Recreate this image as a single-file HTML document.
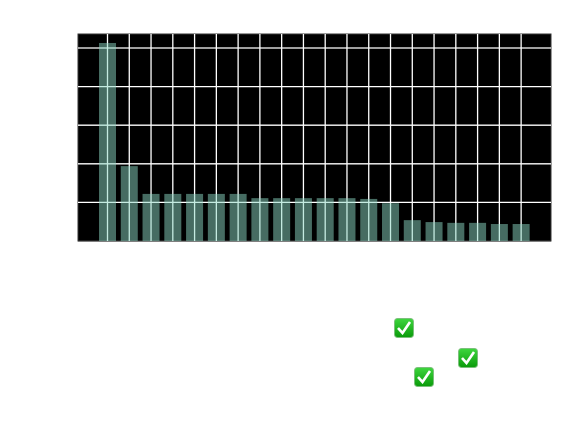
<!DOCTYPE html>
<html><head><meta charset="utf-8"><style>
html,body{margin:0;padding:0;background:#fff;width:564px;height:423px;overflow:hidden;font-family:"Liberation Sans",sans-serif;}
</style></head><body>
<svg id="chart" width="564" height="423" xmlns="http://www.w3.org/2000/svg">
<defs><linearGradient id="gg" x1="0" y1="0" x2="0" y2="1"><stop offset="0" stop-color="#3ed63e"/><stop offset="1" stop-color="#0a9a0a"/></linearGradient></defs>
<rect x="78" y="34" width="473" height="207" fill="#000" stroke="#333" stroke-width="1"/>
<g id="grid"></g><g id="bars"></g>
<g transform="translate(394,318)"><rect x="0.5" y="0.5" width="19" height="19" rx="3" fill="url(#gg)" stroke="#7cc07c"/><path d="M4 10 L8.5 15 L16 4" stroke="#fff" stroke-width="2.6" fill="none"/></g>
<g transform="translate(458,348)"><rect x="0.5" y="0.5" width="19" height="19" rx="3" fill="url(#gg)" stroke="#7cc07c"/><path d="M4 10 L8.5 15 L16 4" stroke="#fff" stroke-width="2.6" fill="none"/></g>
<g transform="translate(414,367)"><rect x="0.5" y="0.5" width="19" height="19" rx="3" fill="url(#gg)" stroke="#7cc07c"/><path d="M4 10 L8.5 15 L16 4" stroke="#fff" stroke-width="2.6" fill="none"/></g>
</svg>
<script>
const categories = ["c1","c2","c3","c4","c5","c6","c7","c8","c9","c10","c11","c12","c13","c14","c15","c16","c17","c18","c19","c20"];
const values = [5.13,1.94,1.22,1.22,1.22,1.22,1.22,1.11,1.11,1.11,1.11,1.11,1.09,0.98,0.54,0.49,0.47,0.47,0.44,0.44];
const yTicks = [0,1,2,3,4,5];
const NS="http://www.w3.org/2000/svg";
const x0=107.5, step=21.77, bw=17;
const xPos=i=>x0+i*step;
const yPos=v=>241-v*38.6;
const grid=document.getElementById('grid'), bars=document.getElementById('bars');
yTicks.forEach(t=>{const l=document.createElementNS(NS,'line');


l.setAttribute('x1',78);l.setAttribute('x2',551);l.setAttribute('y1',yPos(t));l.setAttribute('y2',yPos(t));
l.setAttribute('stroke',t===0?'#333':'#fff');l.setAttribute('stroke-width',1.3);grid.appendChild(l);});
categories.forEach((c,i)=>{const l=document.createElementNS(NS,'line');


l.setAttribute('x1',xPos(i));l.setAttribute('x2',xPos(i));l.setAttribute('y1',34);l.setAttribute('y2',241);
l.setAttribute('stroke','#fff');l.setAttribute('stroke-width',1.3);grid.appendChild(l);
const r=document.createElementNS(NS,'rect');


r.setAttribute('x',xPos(i)-bw/2);r.setAttribute('width',bw);r.setAttribute('y',yPos(values[i]));r.setAttribute('height',241-yPos(values[i]));
r.setAttribute('fill','rgba(140,215,195,0.5)');bars.appendChild(r);});
</script>
</body></html>
